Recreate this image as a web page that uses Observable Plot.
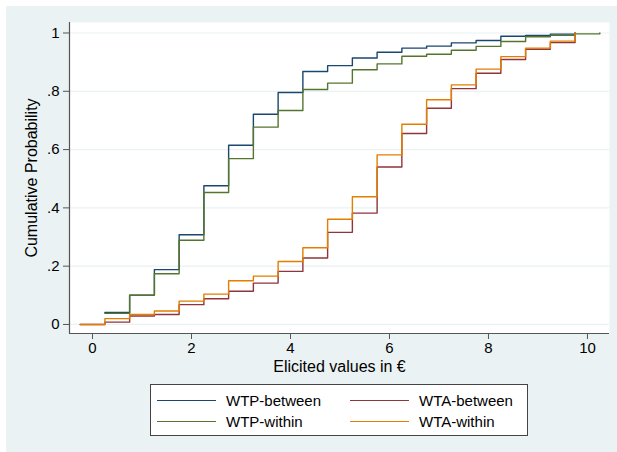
<!DOCTYPE html>
<html>
<head>
<meta charset="utf-8">
<script src="https://cdn.jsdelivr.net/npm/d3@7"></script>
<script src="https://cdn.jsdelivr.net/npm/@observablehq/plot@0.6"></script>
<style>
  html, body { margin: 0; padding: 0; background: #ffffff; }
  #fig { position: relative; width: 617px; height: 452px; overflow: hidden; font-family: "Liberation Sans", Arial, Helvetica, sans-serif; }
  #bg { position: absolute; left: 6px; top: 6px; right: 0; bottom: 0; background: #EAF2F3; }
  #chart { position: absolute; left: 0; top: 0; }
  #legend { position: absolute; left: 150px; top: 384px; width: 376px; height: 50px; background: #ffffff; border: 1px solid #444; box-sizing: content-box; }
  .item { position: absolute; display: flex; align-items: center; font-size: 15px; color: #000; }
  .swatch { width: 59px; height: 0; border-top: 1.3px solid; margin-right: 10px; }
</style>
</head>
<body>
<div id="fig">
  <div id="bg"></div>
  <div id="chart"></div>
  <div id="legend"></div>
</div>
<script>
// ---- data ----
const seriesNames = ["WTP-between", "WTA-between", "WTP-within", "WTA-within"];
const seriesColors = ["#1a476f", "#90353b", "#55752f", "#e37e00"];

const wtpBetweenX = [0.25, 0.75, 1.25, 1.75, 2.25, 2.75, 3.25, 3.75, 4.25, 4.75, 5.25, 5.75, 6.25, 6.75, 7.25, 7.75, 8.25, 8.75, 9.25, 9.75];
const wtpBetweenY = [0.041, 0.10, 0.188, 0.308, 0.476, 0.615, 0.721, 0.796, 0.868, 0.888, 0.914, 0.934, 0.948, 0.955, 0.966, 0.974, 0.989, 0.992, 0.996, 1.0];

const wtpWithinX = [0.25, 0.75, 1.25, 1.75, 2.25, 2.75, 3.25, 3.75, 4.25, 4.75, 5.25, 5.75, 6.25, 6.75, 7.25, 7.75, 8.25, 8.75, 9.25, 9.75, 10.25];
const wtpWithinY = [0.038, 0.10, 0.174, 0.289, 0.453, 0.569, 0.677, 0.734, 0.806, 0.828, 0.874, 0.894, 0.920, 0.927, 0.941, 0.954, 0.971, 0.987, 0.992, 0.997, 1.0];

const wtaBetweenX = [-0.25, 0.25, 0.75, 1.25, 1.75, 2.25, 2.75, 3.25, 3.75, 4.25, 4.75, 5.25, 5.75, 6.25, 6.75, 7.25, 7.75, 8.25, 8.75, 9.25, 9.75];
const wtaBetweenY = [0, 0.008, 0.029, 0.034, 0.068, 0.088, 0.114, 0.142, 0.182, 0.228, 0.316, 0.382, 0.540, 0.655, 0.742, 0.809, 0.862, 0.909, 0.944, 0.967, 1.0];

const wtaWithinX = [-0.25, 0.25, 0.75, 1.25, 1.75, 2.25, 2.75, 3.25, 3.75, 4.25, 4.75, 5.25, 5.75, 6.25, 6.75, 7.25, 7.75, 8.25, 8.75, 9.25, 9.75];
const wtaWithinY = [0, 0.020, 0.034, 0.046, 0.080, 0.104, 0.150, 0.166, 0.216, 0.263, 0.361, 0.438, 0.582, 0.687, 0.771, 0.822, 0.876, 0.919, 0.948, 0.972, 1.0];

const xTicks = [0, 2, 4, 6, 8, 10];
const yTicks = [0, 0.2, 0.4, 0.6, 0.8, 1];
const yTickLabels = ["0", ".2", ".4", ".6", ".8", "1"];
const xTitle = "Elicited values in €";
const yTitle = "Cumulative Probability";

// ---- build table ----
const seriesXY = [
  [wtpBetweenX, wtpBetweenY],
  [wtaBetweenX, wtaBetweenY],
  [wtpWithinX, wtpWithinY],
  [wtaWithinX, wtaWithinY]
];
const rows = [];
seriesXY.forEach(([xs, ys], i) => {
  xs.forEach((x, j) => rows.push({series: seriesNames[i], x, y: ys[j]}));
});

const xDomain = [-0.465, 10.445];
const yDomain = [-0.031, 1.036];

const chart = Plot.plot({
  width: 617,
  height: 380,
  marginLeft: 69,
  marginRight: 8,
  marginTop: 22,
  marginBottom: 47,
  style: {background: "transparent", fontFamily: "'Liberation Sans', Arial, Helvetica, sans-serif", overflow: "visible"},
  x: {domain: xDomain},
  y: {domain: yDomain},
  color: {domain: seriesNames, range: seriesColors},
  marks: [
    Plot.frame({fill: "#ffffff", stroke: "none"}),
    Plot.gridY(yTicks, {stroke: "#EAF2F3", strokeOpacity: 1, strokeWidth: 1.2}),
    Plot.line(rows, {x: "x", y: "y", z: "series", stroke: "series", curve: "step-after", strokeWidth: 1.4}),
    Plot.ruleX([xDomain[0]], {stroke: "#555", strokeWidth: 1.2}),
    Plot.ruleY([yDomain[0]], {stroke: "#555", strokeWidth: 1.2}),
    Plot.axisY(yTicks, {
      tickSize: 6, tickPadding: 4, fontSize: 15, stroke: "#555",
      tickFormat: (d) => yTickLabels[yTicks.indexOf(d)],
      label: null, color: "#000"
    }),
    Plot.axisX(xTicks, {
      tickSize: 6, tickPadding: 3, fontSize: 15, stroke: "#555",
      label: null, color: "#000"
    }),
    Plot.text([xTitle], {
      frameAnchor: "bottom", dy: 38, text: d => d, fontSize: 16, fill: "#000"
    }),
    Plot.text([yTitle], {
      frameAnchor: "left", dx: -38, rotate: -90, textAnchor: "middle", text: d => d, fontSize: 16, fill: "#000"
    })
  ]
});
document.getElementById("chart").appendChild(chart);

// ---- legend ----
const legend = document.getElementById("legend");
const pos = [[6, 6], [199, 6], [6, 27], [199, 27]];
seriesNames.forEach((name, i) => {
  const it = document.createElement("div");
  it.className = "item";
  it.style.left = pos[i][0] + "px";
  it.style.top = pos[i][1] + "px";
  it.style.height = "18px";
  const sw = document.createElement("span");
  sw.className = "swatch";
  sw.style.borderTopColor = seriesColors[i];
  const tx = document.createElement("span");
  tx.textContent = name;
  it.appendChild(sw);
  it.appendChild(tx);
  legend.appendChild(it);
});
</script>
</body>
</html>
